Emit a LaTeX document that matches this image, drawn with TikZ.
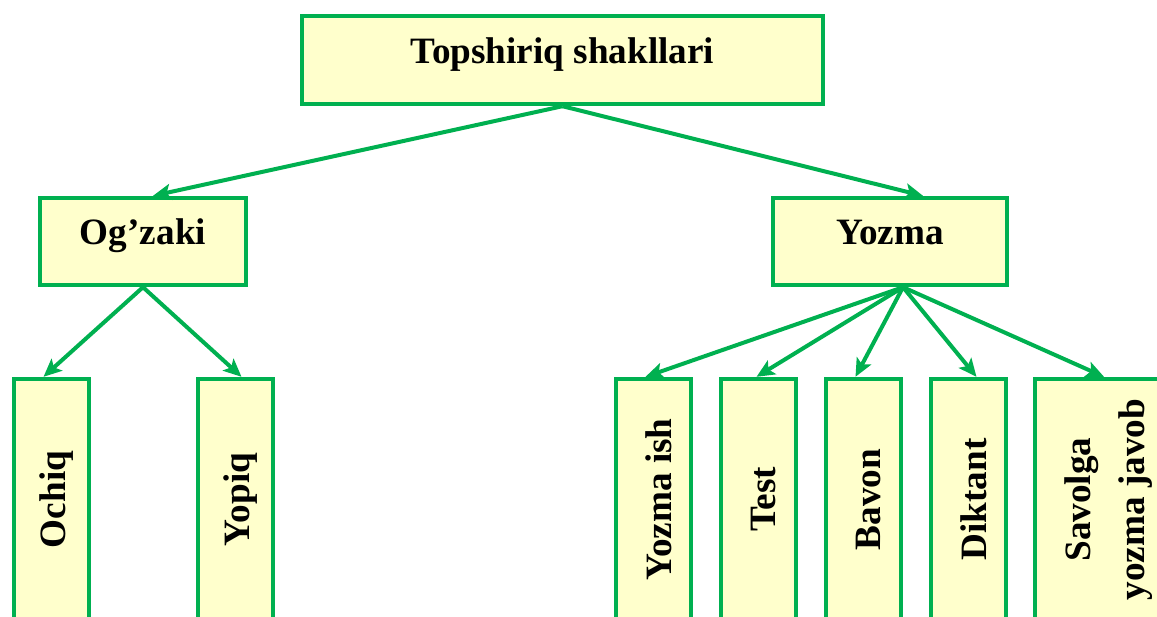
\documentclass[tikz,border=0pt]{standalone}
\usepackage{fontspec}
\setmainfont{Liberation Serif}
\usepackage{graphicx}
\usetikzlibrary{arrows.meta}
\definecolor{boxgreen}{HTML}{00B050}
\definecolor{boxfill}{HTML}{FFFFCC}
\newcommand{\vtext}[1]{\hspace*{5pt}\rotatebox{90}{#1}}

\begin{document}
\begin{tikzpicture}[
        x=0.5pt, y=-0.5pt,
        every node/.style={rectangle,draw=boxgreen,fill=boxfill,line width=2.2pt,inner sep=0pt,
            font=\fontsize{18.6}{27}\selectfont\bfseries},
        headbox/.style={text height=14pt,text depth=11pt}, % text sits a bit high
        formbox/.style={minimum width=37.5pt,minimum height=120.5pt},
        link/.style={draw=boxgreen,line width=2pt,-{Stealth[length=9pt,width=8pt,inset=2pt]}}
    ]
        \clip (0,0) rectangle (1157,616);
        % levels 0 and 1
        \node[headbox,minimum width=260.5pt,minimum height=44pt] (shakl) at (562.5,60) {Topshiriq shakllari};
        \node[headbox,minimum width=103pt,minimum height=43.5pt] (ogzaki) at (143,241.5) {Og’zaki};
        \node[headbox,minimum width=117pt,minimum height=43.5pt] (yozma) at (890,241.5) {Yozma};
        % level 2, vertical text, boxes run past the lower edge
        \node[formbox] (ochiq) at (51.5,499.5) {\vtext{Ochiq}};
        \node[formbox] (yopiq) at (235.5,499.5) {\vtext{Yopiq}};
        \node[formbox] (yish) at (653.5,499.5) {\vtext{Yozma ish}};
        \node[formbox] (test) at (758.5,499.5) {\vtext{Test}};
        \node[formbox] (bayon) at (863.5,499.5) {\vtext{Bavon}};
        \node[formbox] (diktant) at (968.5,499.5) {\vtext{Diktant}};
        \node[formbox,minimum width=72pt] (savol) at (1107,499.5)
            {\rotatebox{90}{\begin{tabular}{@{}c@{}}Savolga\\yozma javob\end{tabular}}};
        % connectors
        \draw[link] (shakl.south) -- ([xshift=5pt]ogzaki.north);
        \draw[link] (shakl.south) -- ([xshift=16.5pt]yozma.north);
        \draw[link] (ogzaki.south) -- ([xshift=-4pt]ochiq.north);
        \draw[link] (ogzaki.south) -- ([xshift=3pt]yopiq.north);
        \coordinate (yz) at ([xshift=6.5pt]yozma.south);
        \foreach \t/\dx in {yish/-4pt,test/-1pt,bayon/-4pt,diktant/4pt,savol/-1.5pt}
            \draw[link] (yz) -- ([xshift=\dx]\t.north);
\end{tikzpicture}
\end{document}
